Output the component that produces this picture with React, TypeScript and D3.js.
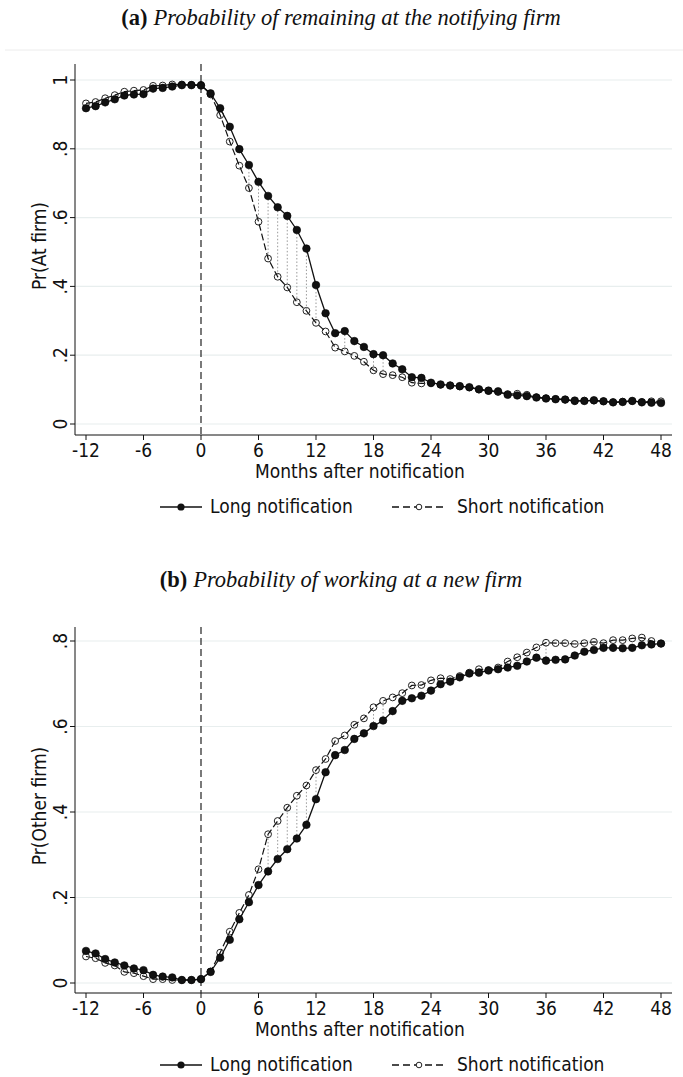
import React from "react";
import * as d3 from "d3";

// Months relative to the notification date
const months: number[] = d3.range(-12, 49);

// Panel (a): Pr(At firm)
const atFirmLong: number[] = [
  0.918, 0.924, 0.935, 0.944, 0.955, 0.958, 0.959, 0.975, 0.977, 0.981, 0.985, 0.985,
  0.984, 0.961, 0.918, 0.864, 0.799, 0.753, 0.704, 0.663, 0.630, 0.605, 0.564, 0.510,
  0.404, 0.322, 0.264, 0.270, 0.241, 0.224, 0.203, 0.200, 0.176, 0.159, 0.136, 0.134,
  0.120, 0.115, 0.112, 0.110, 0.107, 0.101, 0.097, 0.095, 0.085, 0.083, 0.081, 0.077,
  0.074, 0.072, 0.071, 0.068, 0.067, 0.069, 0.066, 0.063, 0.064, 0.067, 0.063, 0.062,
  0.061,
];
const atFirmShort: number[] = [
  0.932, 0.936, 0.947, 0.956, 0.966, 0.969, 0.971, 0.983, 0.984, 0.987, 0.987, 0.986,
  0.986, 0.958, 0.898, 0.821, 0.751, 0.686, 0.588, 0.481, 0.428, 0.397, 0.354, 0.329,
  0.294, 0.269, 0.222, 0.211, 0.198, 0.181, 0.156, 0.145, 0.142, 0.136, 0.120, 0.118,
  0.118, 0.114, 0.112, 0.109, 0.106, 0.100, 0.096, 0.093, 0.087, 0.088, 0.085, 0.078,
  0.075, 0.073, 0.071, 0.066, 0.068, 0.068, 0.066, 0.063, 0.065, 0.067, 0.064, 0.066,
  0.066,
];
// Months where the two groups differ significantly
const atFirmSignificant: number[] = [5, 6, 7, 8, 9, 10, 11, 12, 15, 18, 19];

// Panel (b): Pr(Other firm)
const otherFirmLong: number[] = [
  0.075, 0.069, 0.056, 0.048, 0.041, 0.034, 0.030, 0.019, 0.015, 0.013, 0.007, 0.007,
  0.009, 0.026, 0.059, 0.101, 0.149, 0.189, 0.229, 0.261, 0.290, 0.313, 0.338, 0.370,
  0.430, 0.493, 0.533, 0.545, 0.571, 0.584, 0.601, 0.614, 0.636, 0.660, 0.666, 0.672,
  0.684, 0.699, 0.705, 0.715, 0.724, 0.726, 0.731, 0.734, 0.738, 0.742, 0.752, 0.761,
  0.754, 0.756, 0.757, 0.766, 0.775, 0.779, 0.784, 0.784, 0.783, 0.784, 0.790, 0.792,
  0.794,
];
const otherFirmShort: number[] = [
  0.062, 0.058, 0.047, 0.041, 0.026, 0.023, 0.016, 0.009, 0.009, 0.007, 0.007, 0.007,
  0.009, 0.027, 0.071, 0.120, 0.164, 0.206, 0.266, 0.348, 0.379, 0.410, 0.438, 0.462,
  0.498, 0.524, 0.566, 0.579, 0.604, 0.619, 0.645, 0.660, 0.668, 0.678, 0.696, 0.697,
  0.708, 0.713, 0.711, 0.718, 0.726, 0.734, 0.732, 0.738, 0.752, 0.762, 0.773, 0.785,
  0.796, 0.795, 0.795, 0.793, 0.795, 0.798, 0.795, 0.802, 0.802, 0.806, 0.808, 0.800,
  0.794,
];
const otherFirmSignificant: number[] = [7, 8, 9, 10, 11, 12, 18, 19, 36];

const xTickValues: number[] = [-12, -6, 0, 6, 12, 18, 24, 30, 36, 42, 48];
const atFirmTicks: number[] = [0, 0.2, 0.4, 0.6, 0.8, 1];
const otherFirmTicks: number[] = [0, 0.2, 0.4, 0.6, 0.8];

const legendLabels = ["Long notification", "Short notification"];

const SANS = "'DejaVu Sans Condensed', 'DejaVu Sans', sans-serif";
const SERIF = "'Liberation Serif', 'DejaVu Serif', serif";
const FS = 19;

const fmtY = (v: number) => (v === 0 ? "0" : v === 1 ? "1" : d3.format(".1f")(v).replace(/^0/, ""));

type PanelProps = {
  top: number; // title baseline
  letter: string;
  title: string;
  yLabel: string;
  long: number[];
  short: number[];
  significant: number[];
  yTicks: number[];
  yMax: number;
  plotTop: number;
  yZero: number;
  yMaxPx: number;
  axisY: number;
  topRule?: boolean;
};

const X_LEFT = 75;
const X_RIGHT = 672;

const textStyle = { fontStretch: "condensed" } as React.CSSProperties;

function Panel(p: PanelProps) {
  const x = d3.scaleLinear().domain([-12, 48]).range([86, 661]);
  const y = d3.scaleLinear().domain([0, p.yMax]).range([p.yZero, p.yMaxPx]);

  const longPts = months.map((m, i) => [m, p.long[i]] as [number, number]);
  const shortPts = months.map((m, i) => [m, p.short[i]] as [number, number]);
  const line = d3
    .line<[number, number]>()
    .x((d) => x(d[0]))
    .y((d) => y(d[1]));

  const axisTitleY = p.axisY + 43;
  const legendY = p.axisY + 78;

  return (
    <g>
      {p.topRule && <line x1={5} x2={683} y1={p.top + 25} y2={p.top + 25} stroke="#ececec" strokeWidth={1} />}
      <text x={341} y={p.top} textAnchor="middle" fontFamily={SERIF} fontSize={22.5} fill="#111">
        <tspan fontWeight="bold">({p.letter})</tspan>
        <tspan fontStyle="italic" dx={6}>
          {p.title}
        </tspan>
      </text>

      {/* grid */}
      {p.yTicks.map((t) => (
        <line key={"g" + t} x1={X_LEFT} x2={X_RIGHT} y1={y(t)} y2={y(t)} stroke="#e8eeee" strokeWidth={1.2} />
      ))}

      {/* y axis */}
      <line x1={X_LEFT} x2={X_LEFT} y1={p.plotTop} y2={p.axisY} stroke="#111" strokeWidth={1} />
      {p.yTicks.map((t) => (
        <g key={"y" + t}>
          <line x1={X_LEFT - 5} x2={X_LEFT} y1={y(t)} y2={y(t)} stroke="#111" />
          <text
            transform={`translate(${X_LEFT - 8},${y(t)}) rotate(-90)`}
            textAnchor="middle"
            fontFamily={SANS}
            fontSize={FS}
            style={textStyle}
            fill="#111"
          >
            {fmtY(t)}
          </text>
        </g>
      ))}
      <text
        transform={`translate(46,${(y(0) + y(p.yMax)) / 2 - 6}) rotate(-90)`}
        textAnchor="middle"
        fontFamily={SANS}
        fontSize={FS}
        style={textStyle}
        fill="#111"
      >
        {p.yLabel}
      </text>

      {/* x axis */}
      <line x1={X_LEFT} x2={X_RIGHT} y1={p.axisY} y2={p.axisY} stroke="#111" strokeWidth={1} />
      {xTickValues.map((t) => (
        <g key={"x" + t}>
          <line x1={x(t)} x2={x(t)} y1={p.axisY} y2={p.axisY + 5} stroke="#111" />
          <text
            x={x(t)}
            y={p.axisY + 22}
            textAnchor="middle"
            fontFamily={SANS}
            fontSize={FS}
            style={textStyle}
            fill="#111"
          >
            {t}
          </text>
        </g>
      ))}
      <text
        x={360}
        y={axisTitleY}
        textAnchor="middle"
        fontFamily={SANS}
        fontSize={FS}
        style={textStyle}
        fill="#111"
      >
        Months after notification
      </text>

      {/* notification date */}
      <line x1={x(0)} x2={x(0)} y1={p.plotTop} y2={p.axisY} stroke="#222" strokeWidth={1.2} strokeDasharray="7,4" />

      {/* significant differences */}
      {p.significant.map((m) => {
        const i = months.indexOf(m);
        return (
          <line
            key={"s" + m}
            x1={x(m)}
            x2={x(m)}
            y1={y(p.long[i])}
            y2={y(p.short[i])}
            stroke="#999"
            strokeWidth={1}
            strokeDasharray="1.5,2"
          />
        );
      })}

      {/* short notification */}
      <path d={line(shortPts) || ""} fill="none" stroke="#111" strokeWidth={1.2} strokeDasharray="7,3" />
      {shortPts.map((d) => (
        <circle key={"c" + d[0]} cx={x(d[0])} cy={y(d[1])} r={3.4} fill="none" stroke="#222" strokeWidth={1} />
      ))}

      {/* long notification */}
      <path d={line(longPts) || ""} fill="none" stroke="#111" strokeWidth={1.3} />
      {longPts.map((d) => (
        <circle key={"f" + d[0]} cx={x(d[0])} cy={y(d[1])} r={3.8} fill="#111" stroke="#000" strokeWidth={0.6} />
      ))}

      {/* legend */}
      <line x1={160} x2={202} y1={legendY - 6} y2={legendY - 6} stroke="#111" strokeWidth={1.4} />
      <circle cx={181} cy={legendY - 6} r={3.6} fill="#111" />
      <text x={210} y={legendY} fontFamily={SANS} fontSize={FS} style={textStyle} fill="#111">
        {legendLabels[0]}
      </text>
      <line x1={392} x2={446} y1={legendY - 6} y2={legendY - 6} stroke="#111" strokeWidth={1.3} strokeDasharray="7,4" />
      <circle cx={419} cy={legendY - 6} r={2.8} fill="#fff" stroke="#222" strokeWidth={1} />
      <text x={457} y={legendY} fontFamily={SANS} fontSize={FS} style={textStyle} fill="#111">
        {legendLabels[1]}
      </text>
    </g>
  );
}

export default function App() {
  return (
    <svg
      width={683}
      height={1077}
      viewBox="0 0 683 1077"
      style={{ position: "absolute", left: 0, top: 0, display: "block", background: "#fff" }}
    >
      <rect width={683} height={1077} fill="#fff" />
      <Panel
        top={25}
        letter="a"
        title="Probability of remaining at the notifying firm"
        yLabel="Pr(At firm)"
        long={atFirmLong}
        short={atFirmShort}
        significant={atFirmSignificant}
        yTicks={atFirmTicks}
        yMax={1}
        plotTop={64}
        yZero={424}
        yMaxPx={80}
        axisY={435}
        topRule
      />
      <Panel
        top={587}
        letter="b"
        title="Probability of working at a new firm"
        yLabel="Pr(Other firm)"
        long={otherFirmLong}
        short={otherFirmShort}
        significant={otherFirmSignificant}
        yTicks={otherFirmTicks}
        yMax={0.8}
        plotTop={627}
        yZero={983}
        yMaxPx={641}
        axisY={993}
      />
    </svg>
  );
}
